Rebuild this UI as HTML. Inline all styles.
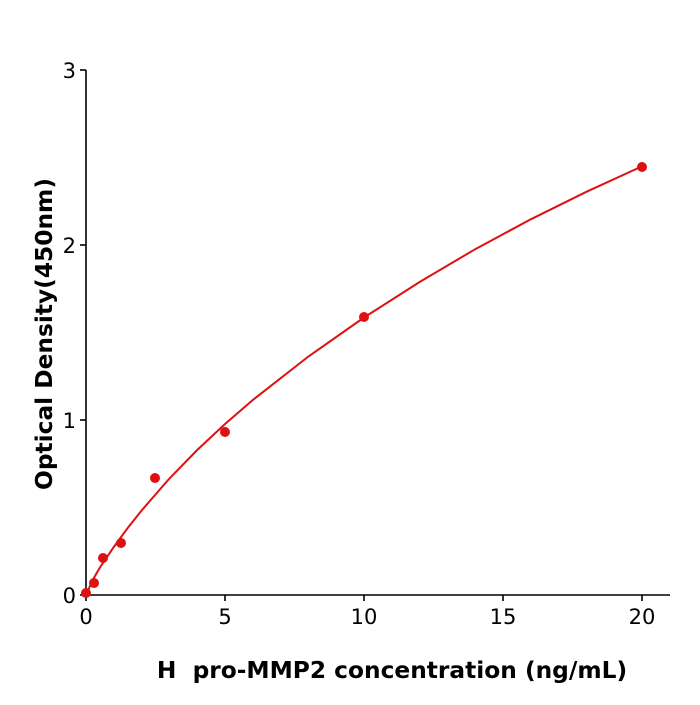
<!DOCTYPE html>
<html><head><style>
body{margin:0;background:#fff}
svg text{font-family:"DejaVu Sans","Liberation Sans",sans-serif}
</style></head><body>
<svg width="700" height="700" xmlns="http://www.w3.org/2000/svg">
<g stroke="#000" stroke-width="1.6" fill="none">
<line x1="86" y1="70" x2="86" y2="595.8"/>
<line x1="85.2" y1="595" x2="670" y2="595"/>
<line x1="80" y1="595" x2="86" y2="595"/>
<line x1="80" y1="420" x2="86" y2="420"/>
<line x1="80" y1="245" x2="86" y2="245"/>
<line x1="80" y1="70" x2="86" y2="70"/>
<line x1="86" y1="595" x2="86" y2="601"/>
<line x1="225" y1="595" x2="225" y2="601"/>
<line x1="364" y1="595" x2="364" y2="601"/>
<line x1="503" y1="595" x2="503" y2="601"/>
<line x1="642" y1="595" x2="642" y2="601"/>
</g>
<g font-size="21" fill="#000">
<g text-anchor="end">
<text x="76" y="603">0</text>
<text x="76" y="428">1</text>
<text x="76" y="253">2</text>
<text x="76" y="78">3</text>
</g>
<g text-anchor="middle">
<text x="86" y="624">0</text>
<text x="225" y="624">5</text>
<text x="364" y="624">10</text>
<text x="503" y="624">15</text>
<text x="642" y="624">20</text>
</g>
</g>
<text x="392" y="678" font-size="23.3" font-weight="bold" text-anchor="middle" xml:space="preserve">H  pro-MMP2 concentration (ng/mL)</text>
<text transform="translate(52,334) rotate(-90)" font-size="23.3" font-weight="bold" text-anchor="middle">Optical Density(450nm)</text>
<polyline fill="none" stroke="#dd1111" stroke-width="2" points="86,595 93,579.5 99.9,567.5 113.8,547 127.7,528 141.6,510.5 169.4,478.5 197.2,450 225,424 252.8,400 308.4,356.5 364,317.5 419.6,282 475.2,249.2 530.8,219.3 586.4,191.8 642,166.3"/>
<g fill="#dd1111">
<circle cx="86" cy="593" r="5"/>
<circle cx="94" cy="583" r="5"/>
<circle cx="103" cy="558" r="5"/>
<circle cx="121" cy="543" r="5"/>
<circle cx="155" cy="478" r="5"/>
<circle cx="225" cy="432" r="5"/>
<circle cx="364" cy="317" r="5"/>
<circle cx="642" cy="167" r="5"/>
</g>
</svg>
</body></html>
